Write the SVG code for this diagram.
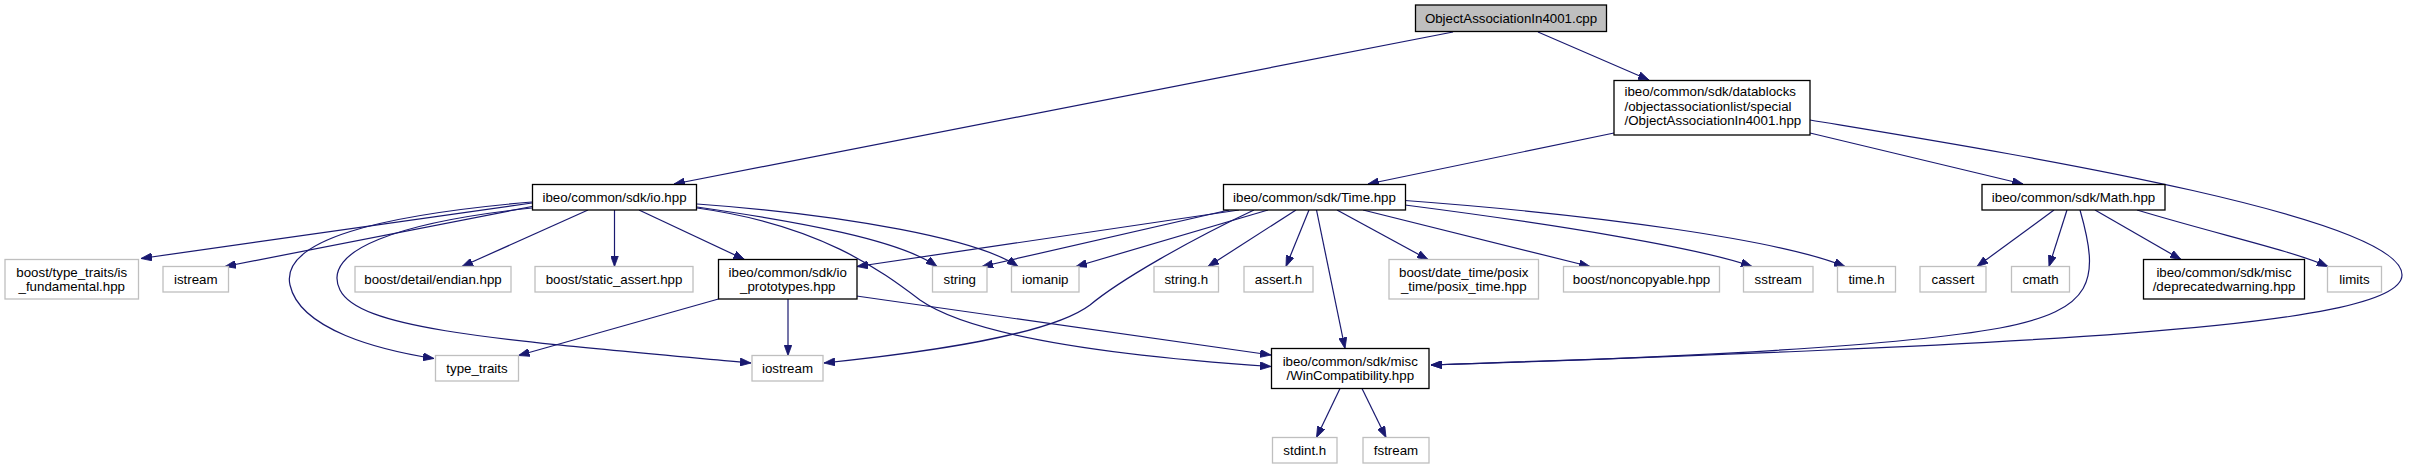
<svg xmlns="http://www.w3.org/2000/svg" width="2409" height="469" viewBox="0 0 2409 469">
<style>
.e path{fill:none;stroke:#191970;stroke-width:1.2;marker-end:url(#ah)}
.n rect{fill:#ffffff;stroke:#000000;stroke-width:1.3}
.u rect{fill:#ffffff;stroke:#bfbfbf;stroke-width:1.3}
.r rect{fill:#bfbfbf;stroke:#000000;stroke-width:1.3}
text{font-family:"Liberation Sans",Arial,Helvetica,sans-serif;font-size:13.3px;fill:#000000;text-anchor:middle}
text.l{text-anchor:start}
</style>
<defs>
<marker id="ah" markerUnits="userSpaceOnUse" markerWidth="12" markerHeight="8" viewBox="0 0 12 8" refX="11" refY="4" orient="auto">
<path d="M0,0 L11,4 L0,8 z" fill="#191970" stroke="#191970" stroke-width="0.8"/>
</marker>
</defs>
<rect width="2409" height="469" fill="#ffffff"/>
<g id="edges" class="e">
<path d="M1453,32 L674,184"/>
<path d="M1538,32 L1649,80"/>
<path d="M1614,133 L1368,184"/>
<path d="M1810,133 L2023,184"/>
<path d="M1810,120 C1990,150 2402,215 2402,275 C2402,330 2000,345 1431,365"/>
<path d="M2080,210 C2100,280 2095,310 2000,328 C1880,350 1600,360 1431,365"/>
<path d="M532,203 L141,258.5"/>
<path d="M532,206.5 L225,266.5"/>
<path d="M532,202 C380,215 280,240 290,285 C300,330 380,350 434,358.5"/>
<path d="M532,208 C400,222 320,250 340,290 C360,330 500,340 751,363"/>
<path d="M588,210 L462,266.5"/>
<path d="M614.5,210 L614.5,266.5"/>
<path d="M639,210 L744.5,259.5"/>
<path d="M697,207 C800,222 900,240 937,266.5"/>
<path d="M697,204 C850,215 980,240 1018,266.5"/>
<path d="M697,208 C820,225 880,270 920,300 C970,335 1100,355 1271,366.5"/>
<path d="M718.5,299 L518.5,355.5"/>
<path d="M788,299 L788,355.5"/>
<path d="M856.5,296 L1271,355"/>
<path d="M1239,210 L857,266.5"/>
<path d="M1229,210 L982,266.5"/>
<path d="M1268,210 L1076,266.5"/>
<path d="M1254,210 C1190,240 1120,280 1090,305 C1050,335 930,352 824,363"/>
<path d="M1296,210 L1208,266.5"/>
<path d="M1309,210 L1286,266.5"/>
<path d="M1316.5,210 L1345,348.5"/>
<path d="M1337,210 L1428,259.5"/>
<path d="M1363,210 L1590,266.5"/>
<path d="M1405,205 C1560,225 1700,248 1752,266.5"/>
<path d="M1405,200.5 C1600,215 1780,240 1845,266.5"/>
<path d="M2054,210 L1977,266.5"/>
<path d="M2067,210 L2049,266.5"/>
<path d="M2095,210 L2181,259.5"/>
<path d="M2137,210 C2220,235 2290,250 2328,266.5"/>
<path d="M1340,388.5 L1316.5,437.5"/>
<path d="M1362,388.5 L1386,437.5"/>
</g>
<g id="n_cpp" class="r"><rect x="1415.5" y="5" width="191" height="26.5"/><text x="1511" y="22.7">ObjectAssociationIn4001.cpp</text></g>
<g id="n_oahpp" class="n"><rect x="1614" y="80.5" width="196" height="54.5"/><text class="l" x="1624.5" y="96">ibeo/common/sdk/datablocks</text><text class="l" x="1624.5" y="110.5">/objectassociationlist/special</text><text class="l" x="1624.5" y="125">/ObjectAssociationIn4001.hpp</text></g>
<g id="n_io" class="n"><rect x="532.5" y="184.5" width="164" height="25.5"/><text x="614.5" y="201.5">ibeo/common/sdk/io.hpp</text></g>
<g id="n_time" class="n"><rect x="1223.5" y="184.5" width="182" height="25.5"/><text x="1314.5" y="201.5">ibeo/common/sdk/Time.hpp</text></g>
<g id="n_math" class="n"><rect x="1982" y="184.5" width="183" height="25.5"/><text x="2073.5" y="201.5">ibeo/common/sdk/Math.hpp</text></g>
<g id="n_isfund" class="u"><rect x="5" y="259.5" width="133.5" height="39.5"/><text x="71.75" y="276.5">boost/type_traits/is</text><text x="71.75" y="291">_fundamental.hpp</text></g>
<g id="n_istream" class="u"><rect x="163" y="266.5" width="65.5" height="25.5"/><text x="195.75" y="283.5">istream</text></g>
<g id="n_endian" class="u"><rect x="355" y="266.5" width="156" height="25.5"/><text x="433" y="283.5">boost/detail/endian.hpp</text></g>
<g id="n_static" class="u"><rect x="535" y="266.5" width="158" height="25.5"/><text x="614" y="283.5">boost/static_assert.hpp</text></g>
<g id="n_ioproto" class="n"><rect x="718.5" y="259.5" width="138.5" height="39.5"/><text x="787.75" y="276.5">ibeo/common/sdk/io</text><text x="787.75" y="291">_prototypes.hpp</text></g>
<g id="n_string" class="u"><rect x="932.5" y="266.5" width="54.5" height="25.5"/><text x="959.75" y="283.5">string</text></g>
<g id="n_iomanip" class="u"><rect x="1011.5" y="266.5" width="67.5" height="25.5"/><text x="1045.25" y="283.5">iomanip</text></g>
<g id="n_stringh" class="u"><rect x="1154" y="266.5" width="64.5" height="25.5"/><text x="1186.25" y="283.5">string.h</text></g>
<g id="n_asserth" class="u"><rect x="1244" y="266.5" width="69" height="25.5"/><text x="1278.5" y="283.5">assert.h</text></g>
<g id="n_posix" class="u"><rect x="1389" y="259.5" width="149.5" height="39.5"/><text x="1463.75" y="276.5">boost/date_time/posix</text><text x="1463.75" y="291">_time/posix_time.hpp</text></g>
<g id="n_noncopy" class="u"><rect x="1563.5" y="266.5" width="156" height="25.5"/><text x="1641.5" y="283.5">boost/noncopyable.hpp</text></g>
<g id="n_sstream" class="u"><rect x="1743.5" y="266.5" width="69.5" height="25.5"/><text x="1778.25" y="283.5">sstream</text></g>
<g id="n_timeh" class="u"><rect x="1837.5" y="266.5" width="58" height="25.5"/><text x="1866.5" y="283.5">time.h</text></g>
<g id="n_cassert" class="u"><rect x="1920" y="266.5" width="66" height="25.5"/><text x="1953" y="283.5">cassert</text></g>
<g id="n_cmath" class="u"><rect x="2011.5" y="266.5" width="58" height="25.5"/><text x="2040.5" y="283.5">cmath</text></g>
<g id="n_deprec" class="n"><rect x="2143.5" y="259.5" width="161" height="39.5"/><text x="2224" y="276.5">ibeo/common/sdk/misc</text><text x="2224" y="291">/deprecatedwarning.hpp</text></g>
<g id="n_limits" class="u"><rect x="2327.5" y="266.5" width="54" height="25.5"/><text x="2354.5" y="283.5">limits</text></g>
<g id="n_typetraits" class="u"><rect x="435.5" y="355.5" width="83" height="25.5"/><text x="477" y="372.5">type_traits</text></g>
<g id="n_iostream" class="u"><rect x="752" y="355.5" width="71" height="25.5"/><text x="787.5" y="372.5">iostream</text></g>
<g id="n_wincompat" class="n"><rect x="1271.5" y="348.5" width="157.5" height="40"/><text x="1350.25" y="365.5">ibeo/common/sdk/misc</text><text x="1350.25" y="380">/WinCompatibility.hpp</text></g>
<g id="n_stdint" class="u"><rect x="1272.5" y="437.5" width="64.5" height="25.5"/><text x="1304.75" y="454.5">stdint.h</text></g>
<g id="n_fstream" class="u"><rect x="1363" y="437.5" width="66" height="25.5"/><text x="1396" y="454.5">fstream</text></g>
</svg>
